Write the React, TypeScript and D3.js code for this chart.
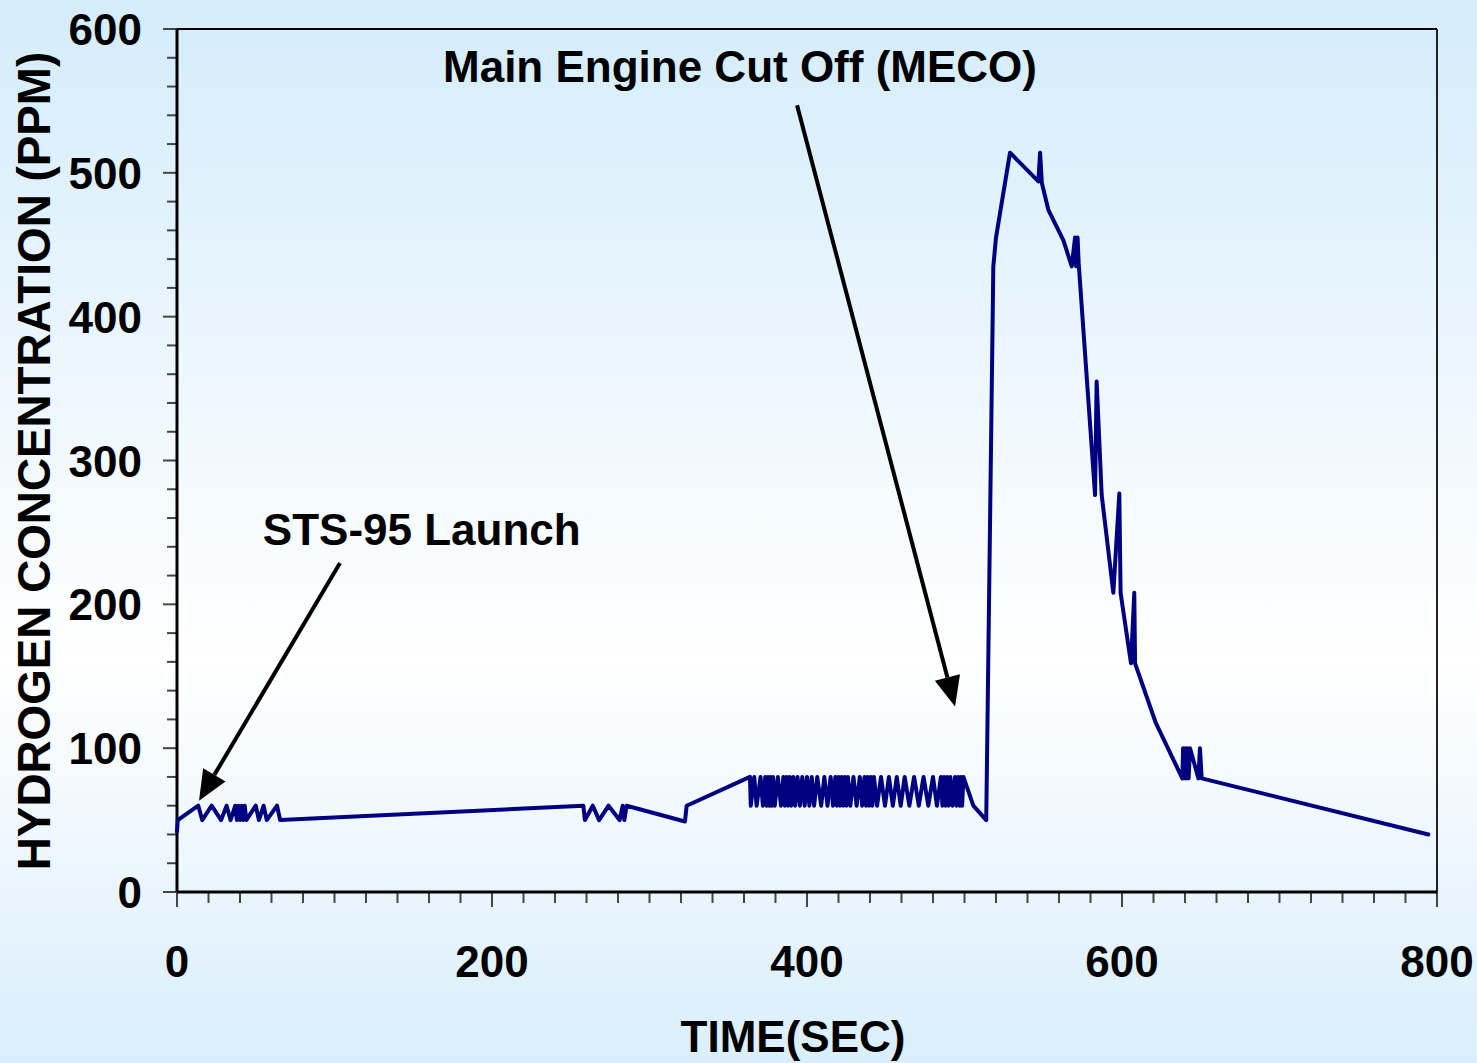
import React from "react";
import * as d3 from "d3";

// Hydrogen concentration (ppm) against mission elapsed time (s), split by flight phase.
const liftoffPhase: [number, number][] = [
  [0, 42], [0.5, 50], [13.5, 60], [16, 50], [22, 60], [28, 50], [31.5, 60], [34, 50],
  [37, 60], [38, 50], [39, 60], [40, 50], [41, 60], [42, 50], [43, 60], [44, 50],
  [50, 60], [52, 50], [55, 60], [57, 50], [63.5, 60], [65.5, 50],
];

const climbPhase: [number, number][] = [
  [258, 60], [259, 50], [264, 60], [268, 50], [274, 60], [281, 50], [283, 60], [284, 50],
  [285.5, 60], [322.5, 49], [323.6, 60], [363.8, 80],
];

const oscillationPhase: [number, number][] = [
  [364.3, 60], [366.5, 80], [368, 60], [370.5, 80], [372, 60], [373.5, 80], [374.3, 60],
  [375.2, 80], [376, 60], [376.8, 80], [377.6, 60], [378.4, 80], [379.5, 60], [381.5, 80],
  [383.5, 60], [385, 80], [386, 60], [387, 80], [388, 60], [389, 80], [390, 60], [391.3, 80],
  [392.5, 60], [394, 80], [395.5, 60], [397, 80], [398.5, 60], [400, 80], [401.5, 60],
  [403, 80], [404.5, 60], [406.5, 80], [409, 60], [411, 80], [413, 60], [415, 80],
  [416.5, 60], [418, 80], [419, 60], [420, 80], [421, 60], [422, 80], [423, 60], [424, 80],
  [425, 60], [426, 80], [427.5, 60], [429.5, 80], [431.5, 60], [433.5, 80], [435, 60],
  [436.5, 80], [437.5, 60], [438.5, 80], [439.5, 60], [440.5, 80], [441.5, 60], [442.5, 80],
  [444.5, 60], [447, 80], [449.5, 60], [452, 80], [454.5, 60], [457, 80], [459.5, 60],
  [462, 80], [465, 60], [468, 80], [471, 60], [474, 80], [477, 60], [480, 80], [482.5, 60],
  [485, 80], [486, 60], [487, 80], [488, 60], [489, 80], [490, 60], [491, 80], [492.5, 60],
  [494, 80], [495, 60], [496, 80], [497, 60], [497.8, 80], [498.5, 60], [499.3, 80],
  [505.6, 60], [513.8, 50],
];

const mecoPhase: [number, number][] = [
  [518.3, 435], [520, 455], [528.9, 514], [546.9, 494], [548, 514], [549.1, 493],
  [553.3, 474], [562.8, 453], [568.1, 435], [570.2, 455], [570.9, 435], [571.8, 455],
  [572.5, 437], [582.9, 276], [583.9, 355], [587.1, 276], [594.5, 208], [598.3, 277],
  [599.1, 208], [605.7, 159], [607.8, 208], [608.3, 159], [621.3, 118], [638.3, 79],
  [638.8, 100], [639.5, 79], [640.2, 100], [640.9, 79], [641.6, 100], [642.3, 79],
  [643.2, 100], [648.5, 79], [649.5, 100], [650.6, 79], [794.5, 40],
];

const xLabelTicks = [0, 200, 400, 600, 800];
const yLabelTicks = [0, 100, 200, 300, 400, 500, 600];

// Annotations: label anchor and arrow (tail -> tip), in data units.
const launchLabel = { text: "STS-95 Launch", t: 54.5, ppm: 241 };
const launchArrow = { from: [103.5, 228.8], to: [14, 63.5] };
const mecoLabel = { text: "Main Engine Cut Off (MECO)", t: 168.9, ppm: 563 };
const mecoArrow = { from: [393.7, 547], to: [494, 129] };

const W = 1477;
const H = 1063;
const FONT = "'Liberation Sans', Arial, Helvetica, sans-serif";

const x = d3.scaleLinear().domain([0, 800]).range([177, 1437]);
const y = d3.scaleLinear().domain([0, 600]).range([892, 29]);

const series = [...liftoffPhase, ...climbPhase, ...oscillationPhase, ...mecoPhase];

function Arrow({ from, to }: { from: number[]; to: number[] }) {
  const x1 = x(from[0]);
  const y1 = y(from[1]);
  const x2 = x(to[0]);
  const y2 = y(to[1]);
  const ang = Math.atan2(y2 - y1, x2 - x1);
  const len = 30;
  const half = 13;
  const bx = x2 - len * Math.cos(ang);
  const by = y2 - len * Math.sin(ang);
  const px = -Math.sin(ang) * half;
  const py = Math.cos(ang) * half;
  return (
    <g>
      <line x1={x1} y1={y1} x2={bx} y2={by} stroke="#000" strokeWidth={4} />
      <polygon
        points={`${x2},${y2} ${bx + px},${by + py} ${bx - px},${by - py}`}
        fill="#000"
      />
    </g>
  );
}

export default function App() {
  const line = d3
    .line<[number, number]>()
    .x((d) => x(d[0]))
    .y((d) => y(d[1]));

  const xMinor = x.ticks(32);
  const yMinor = y.ticks(24);
  const x0 = x.range()[0];
  const x1 = x.range()[1];
  const y0 = y.range()[0];
  const y1 = y.range()[1];

  return (
    <div style={{ position: "absolute", left: 0, top: 0 }}>
      <svg width={W} height={H} style={{ display: "block" }}>
        <defs>
          <linearGradient id="bg" x1="0" y1="0" x2="0" y2="1">
            <stop offset="0" stopColor="#d4ecfb" />
            <stop offset="0.62" stopColor="#ffffff" />
            <stop offset="1" stopColor="#d9eefc" />
          </linearGradient>
        </defs>
        <rect x={0} y={0} width={W} height={H} fill="url(#bg)" />

        {/* frame */}
        <line x1={x0} y1={y1} x2={x1} y2={y1} stroke="#000" strokeWidth={2} />
        <line x1={x1} y1={y1} x2={x1} y2={y0} stroke="#222" strokeWidth={2} />

        {/* minor and major ticks */}
        {xMinor.map((t) => (
          <line
            key={"xt" + t}
            x1={x(t)}
            x2={x(t)}
            y1={y0}
            y2={y0 + (t % 200 === 0 ? 15 : 11)}
            stroke="#444"
            strokeWidth={2}
          />
        ))}
        {yMinor.map((v) => (
          <line
            key={"yt" + v}
            x1={x0 - (v % 100 === 0 ? 14 : 10)}
            x2={x0}
            y1={y(v)}
            y2={y(v)}
            stroke="#444"
            strokeWidth={2}
          />
        ))}

        {/* axes */}
        <line x1={x0} y1={y0} x2={x1} y2={y0} stroke="#000" strokeWidth={3} />
        <line x1={x0} y1={y1} x2={x0} y2={y0} stroke="#000" strokeWidth={3} />

        {/* data */}
        <path
          d={line(series) || ""}
          fill="none"
          stroke="#000080"
          strokeWidth={4}
          strokeLinejoin="round"
          strokeLinecap="round"
        />

        {/* tick labels */}
        <g fontFamily={FONT} fontWeight="bold" fontSize={44} fill="#000">
          {yLabelTicks.map((v) => (
            <text key={"yl" + v} x={142} y={y(v) + 16} textAnchor="end">
              {v}
            </text>
          ))}
          {xLabelTicks.map((t) => (
            <text key={"xl" + t} x={x(t)} y={977} textAnchor="middle">
              {t}
            </text>
          ))}
          <text x={793} y={1052} textAnchor="middle">
            TIME(SEC)
          </text>
          <text
            transform={`translate(50, 461) rotate(-90)`}
            textAnchor="middle"
            fontSize={45.8}
          >
            HYDROGEN CONCENTRATION (PPM)
          </text>
          <text x={x(launchLabel.t)} y={y(launchLabel.ppm)}>
            {launchLabel.text}
          </text>
          <text x={x(mecoLabel.t)} y={y(mecoLabel.ppm)}>
            {mecoLabel.text}
          </text>
        </g>

        <Arrow from={launchArrow.from} to={launchArrow.to} />
        <Arrow from={mecoArrow.from} to={mecoArrow.to} />
      </svg>
    </div>
  );
}
